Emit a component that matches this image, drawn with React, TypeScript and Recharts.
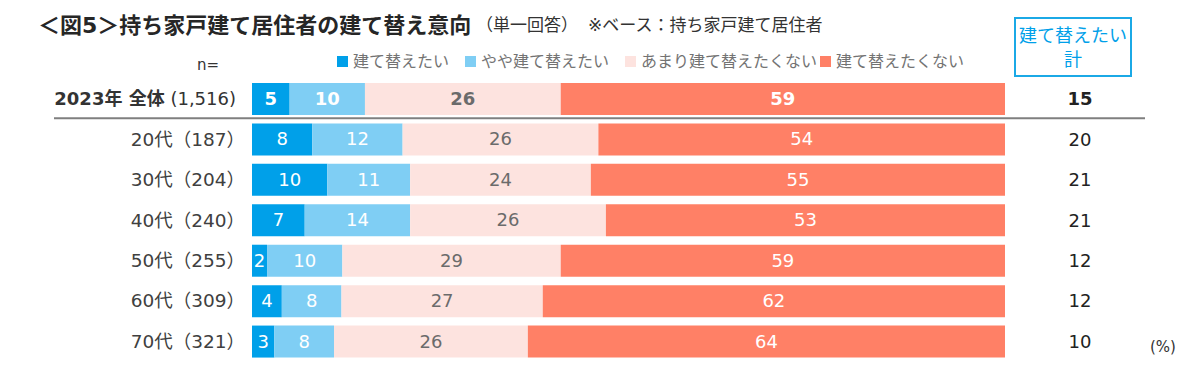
import { Bar, BarChart, LabelList, XAxis, YAxis } from "recharts";

const CATEGORIES = ["2023年 全体", "20代", "30代", "40代", "50代", "60代", "70代"];
const SAMPLE_N = ["1,516", "187", "204", "240", "255", "309", "321"];
const WANT = [5, 8, 10, 7, 2, 4, 3];
const SOMEWHAT = [10, 12, 11, 14, 10, 8, 8];
const NOT_MUCH = [26, 26, 24, 26, 29, 27, 26];
const NOT_AT_ALL = [59, 54, 55, 53, 59, 62, 64];
const TOTALS = [15, 20, 21, 21, 12, 12, 10];

const SERIES = [
  { key: "want", name: "建て替えたい", values: WANT, color: "#00A0E9", text: "#ffffff" },
  { key: "somewhat", name: "やや建て替えたい", values: SOMEWHAT, color: "#7FCEF4", text: "#ffffff" },
  { key: "notMuch", name: "あまり建て替えたくない", values: NOT_MUCH, color: "#FDE3DF", text: "#6B6B6B" },
  { key: "notAtAll", name: "建て替えたくない", values: NOT_AT_ALL, color: "#FF8066", text: "#ffffff" },
];

const LEGEND_X = [337, 465, 625, 820];

const FONT = '"DejaVu Sans", "Noto Sans CJK JP", sans-serif';

const data = CATEGORIES.map((name, i) => ({
  name,
  want: WANT[i],
  somewhat: SOMEWHAT[i],
  notMuch: NOT_MUCH[i],
  notAtAll: NOT_AT_ALL[i],
}));

function RowTick(props: any) {
  const { x, y, index } = props;
  const first = index === 0;
  return (
    <g>
      {first ? (
        <text x={x - 8} y={y} dy={6} textAnchor="end" fontSize={18} fill="#333333" fontFamily={FONT}>
          <tspan fontWeight={700}>{CATEGORIES[index]}</tspan>
          <tspan> ({SAMPLE_N[index]})</tspan>
        </text>
      ) : (
        <text x={x + 1} y={y} dy={6} textAnchor="end" fontSize={18.5} fill="#404040" fontFamily={FONT}>
          {`${CATEGORIES[index]}（${SAMPLE_N[index]}）`}
        </text>
      )}
      <text
        x={1080}
        y={y}
        dy={6}
        textAnchor="middle"
        fontSize={18}
        fontWeight={first ? 700 : 400}
        fill="#222222"
        fontFamily={FONT}
      >
        {TOTALS[index]}
      </text>
      {first && <line x1={54} x2={1145} y1={y + 19} y2={y + 19} stroke="#7F7F7F" strokeWidth={2} />}
    </g>
  );
}

function makeLabel(values: number[], color: string) {
  return (props: any) => {
    const { x, y, width, height, index } = props;
    return (
      <text
        x={x + width / 2}
        y={y + height / 2}
        dy={6}
        textAnchor="middle"
        fontSize={18}
        fontWeight={index === 0 ? 700 : 400}
        fill={color}
        fontFamily={FONT}
      >
        {values[index]}
      </text>
    );
  };
}

export default function App() {
  return (
    <div
      style={{
        position: "absolute",
        left: 0,
        top: 0,
        width: 1193,
        height: 370,
        background: "#ffffff",
        fontFamily: FONT,
      }}
    >
      <div
        style={{
          position: "absolute",
          left: 38,
          top: 7,
          fontSize: 22,
          fontWeight: 700,
          color: "#262626",
          whiteSpace: "nowrap",
        }}
      >
        ＜図5＞持ち家戸建て居住者の建て替え意向
      </div>
      <div
        style={{
          position: "absolute",
          left: 476,
          top: 11,
          fontSize: 17,
          color: "#333333",
          whiteSpace: "nowrap",
        }}
      >
        （単一回答）
      </div>
      <div
        style={{
          position: "absolute",
          left: 588,
          top: 11,
          fontSize: 17,
          color: "#333333",
          whiteSpace: "nowrap",
        }}
      >
        ※ベース：持ち家戸建て居住者
      </div>

      <div style={{ position: "absolute", left: 197, top: 56, fontSize: 15, color: "#333333" }}>n=</div>

      {SERIES.map((s, i) => (
        <div
          key={s.key}
          style={{
            position: "absolute",
            left: LEGEND_X[i],
            top: 48,
            display: "flex",
            alignItems: "center",
            gap: 5,
            fontSize: 16,
            color: "#737373",
            whiteSpace: "nowrap",
          }}
        >
          <span style={{ width: 11, height: 11, background: s.color, display: "inline-block", marginTop: 3 }} />
          {s.name}
        </div>
      ))}

      <div
        style={{
          position: "absolute",
          left: 1014,
          top: 17,
          width: 114,
          height: 51,
          border: "2px solid #1BA9E6",
          color: "#00A0E9",
          fontSize: 18,
          lineHeight: "24px",
          textAlign: "center",
          paddingTop: 5,
          boxSizing: "content-box",
          whiteSpace: "nowrap",
        }}
      >
        建て替えたい
        <br />計
      </div>

      <div style={{ position: "absolute", left: 1150, top: 338, fontSize: 15, color: "#333333" }}>(%)</div>

      <BarChart
        width={1193}
        height={370}
        data={data}
        layout="vertical"
        stackOffset="expand"
        barSize={32}
        margin={{ top: 79, right: 188, bottom: 8, left: 0 }}
      >
        <XAxis type="number" hide domain={[0, 1]} />
        <YAxis
          type="category"
          dataKey="name"
          width={252}
          axisLine={false}
          tickLine={false}
          tick={<RowTick />}
          interval={0}
        />
        {SERIES.map((s) => (
          <Bar key={s.key} dataKey={s.key} stackId="a" fill={s.color} isAnimationActive={false}>
            <LabelList dataKey={s.key} content={makeLabel(s.values, s.text)} />
          </Bar>
        ))}
      </BarChart>
    </div>
  );
}
